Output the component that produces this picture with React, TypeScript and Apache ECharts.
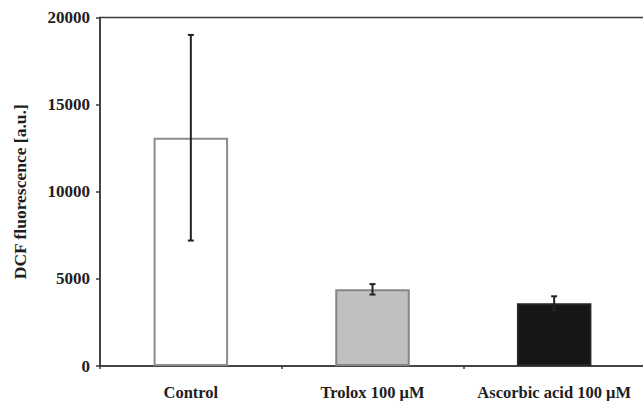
import React, { useEffect, useRef } from "react";
import * as echarts from "echarts";

const categories = ["Control", "Trolox 100 μM", "Ascorbic acid 100 μM"];
const means = [13100, 4400, 3600];
const errors = [5900, 300, 400];
const barColors = ["#ffffff", "#c0c0c0", "#161616"];
const barBorders = ["#8c8c8c", "#858585", "#262626"];
const yTicks = [0, 5000, 10000, 15000, 20000];

const FONT = "'Liberation Serif', 'Times New Roman', serif";

export default function App() {
  const ref = useRef<HTMLDivElement>(null);
  useEffect(() => {
    if (!ref.current) return;
    const chart = echarts.init(ref.current, undefined, { renderer: "svg" });
    const errData = means.map((m, i) => [i, m - errors[i], m + errors[i]]);
    chart.setOption({
      animation: false,
      backgroundColor: "#ffffff",
      grid: {
        left: 100,
        top: 17.5,
        bottom: 35,
        right: 1,
        show: true,
        borderColor: "#3a3a3a",
        borderWidth: 1.5,
        backgroundColor: "transparent",
      },
      xAxis: {
        type: "category",
        data: categories,
        axisLine: { lineStyle: { color: "#3a3a3a", width: 1.5 } },
        axisTick: { show: true, length: 3, lineStyle: { color: "#3a3a3a", width: 1.5 } },
        axisLabel: {
          interval: 0,
          hideOverlap: false,
          margin: 18,
          fontFamily: FONT,
          fontWeight: "bold",
          fontSize: 16.5,
          color: "#1e1e1e",
        },
      },
      yAxis: {
        type: "value",
        min: yTicks[0],
        max: yTicks[yTicks.length - 1],
        interval: 5000,
        splitLine: { show: false },
        axisLine: { show: true, lineStyle: { color: "#3a3a3a", width: 1.5 } },
        axisTick: { show: true, length: 4, lineStyle: { color: "#3a3a3a", width: 1.5 } },
        axisLabel: {
          margin: 10,
          formatter: (v: number) => String(v),
          fontFamily: FONT,
          fontWeight: "bold",
          fontSize: 17,
          color: "#1e1e1e",
        },
        name: "DCF fluorescence [a.u.]",
        nameLocation: "middle",
        nameGap: 71,
        nameTextStyle: {
          fontFamily: FONT,
          fontWeight: "bold",
          fontSize: 17.5,
          color: "#1e1e1e",
        },
      },
      series: [
        {
          type: "bar",
          barWidth: "41%",
          data: means.map((v, i) => ({
            value: v,
            itemStyle: {
              color: barColors[i],
              borderColor: barBorders[i],
              borderWidth: 2,
            },
          })),
        },
        {
          type: "custom",
          data: errData,
          z: 10,
          renderItem: (params: any, api: any) => {
            const x = api.value(0);
            const lo = api.coord([x, api.value(1)]);
            const hi = api.coord([x, api.value(2)]);
            const hw = 3;
            const style = { stroke: "#222", lineWidth: 2 };
            return {
              type: "group",
              children: [
                { type: "line", shape: { x1: hi[0], y1: hi[1], x2: lo[0], y2: lo[1] }, style },
                { type: "line", shape: { x1: hi[0] - hw, y1: hi[1], x2: hi[0] + hw, y2: hi[1] }, style },
                { type: "line", shape: { x1: lo[0] - hw, y1: lo[1], x2: lo[0] + hw, y2: lo[1] }, style },
              ],
            };
          },
        },
      ],
    });
    return () => chart.dispose();
  }, []);
  return (
    <div
      ref={ref}
      style={{ position: "fixed", left: 0, top: 0, width: 646, height: 401, background: "#fff" }}
    />
  );
}
